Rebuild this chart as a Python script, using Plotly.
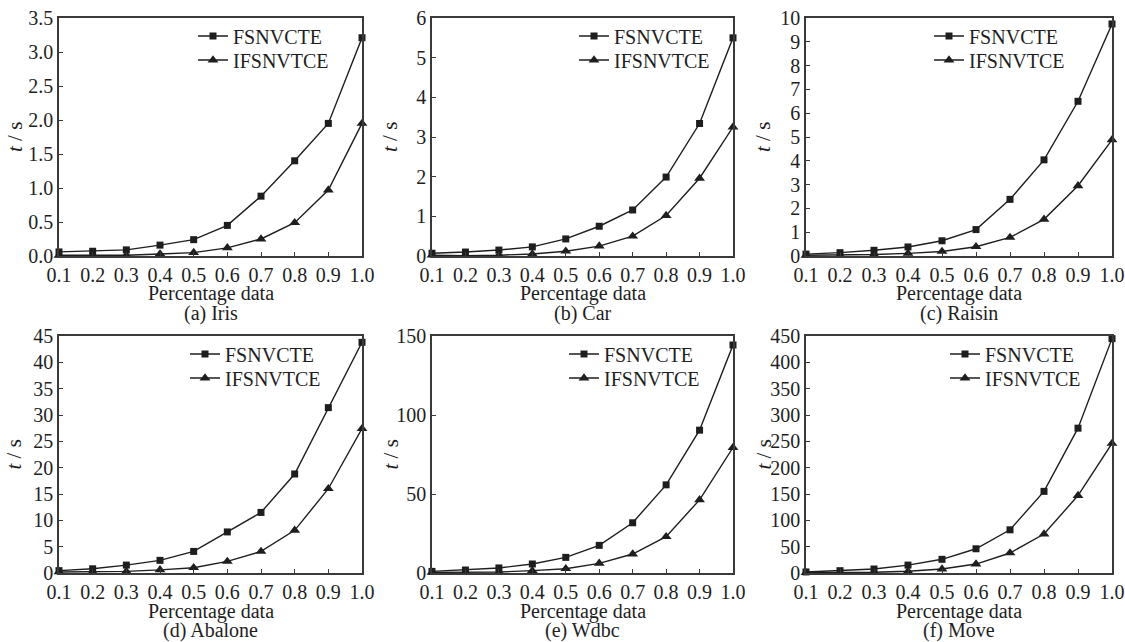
import plotly.graph_objects as go

W, H = 1125, 642

x_vals = [0.1, 0.2, 0.3, 0.4, 0.5, 0.6, 0.7, 0.8, 0.9, 1.0]
series_names = ["FSNVCTE", "IFSNVTCE"]

iris_fs = [0.06, 0.07, 0.09, 0.16, 0.24, 0.45, 0.88, 1.40, 1.95, 3.21]
iris_ifs = [0.01, 0.01, 0.01, 0.03, 0.05, 0.12, 0.25, 0.49, 0.97, 1.95]

car_fs = [0.07, 0.10, 0.15, 0.23, 0.43, 0.75, 1.16, 1.99, 3.34, 5.50]
car_ifs = [0.02, 0.01, 0.02, 0.05, 0.12, 0.25, 0.50, 1.02, 1.96, 3.25]

raisin_fs = [0.08, 0.14, 0.24, 0.38, 0.64, 1.11, 2.38, 4.04, 6.50, 9.75]
raisin_ifs = [0.03, 0.03, 0.06, 0.11, 0.19, 0.39, 0.78, 1.54, 2.95, 4.88]

abalone_fs = [0.45, 0.8, 1.5, 2.4, 4.1, 7.8, 11.5, 18.8, 31.4, 43.8]
abalone_ifs = [0.2, 0.2, 0.3, 0.6, 1.0, 2.2, 4.1, 8.1, 16.0, 27.4]

wdbc_fs = [1.0, 1.9, 3.2, 5.7, 9.9, 17.5, 31.8, 55.8, 90.4, 144.3]
wdbc_ifs = [0.4, 0.4, 0.6, 1.5, 2.7, 6.1, 12.0, 23.0, 46.3, 79.4]

move_fs = [2.0, 4.4, 7.6, 15.0, 26.0, 46.0, 82.0, 155.0, 275.0, 445.0]
move_ifs = [0.6, 0.6, 1.3, 3.2, 7.6, 17.0, 38.0, 74.0, 147.0, 246.0]

captions = ["(a) Iris", "(b) Car", "(c) Raisin", "(d) Abalone", "(e) Wdbc", "(f) Move"]
y_ranges = [[0, 3.5], [0, 6], [0, 10], [0, 45], [0, 150], [0, 450]]
y_dticks = [0.5, 1, 1, 5, 50, 50]
y_formats = [".1f", "d", "d", "d", "d", "d"]
panel_data = [
    (iris_fs, iris_ifs), (car_fs, car_ifs), (raisin_fs, raisin_ifs),
    (abalone_fs, abalone_ifs), (wdbc_fs, wdbc_ifs), (move_fs, move_ifs),
]

FONT = "Liberation Serif"
INK = "#1e1e1e"
FS = 20
TICK_FS = 19

# panel boxes in pixels: (left, right, top, bottom)
col_px = [(59, 362), (432, 733), (806, 1112)]
row_px = [(18, 256), (336, 573)]
legend_x_px = [193, 574, 929, 185, 564, 945]
legend_rows_px = [(36, 60), (354, 378)]
ytitle_px = [15, 390, 763, 13, 390, 763]

fig = go.Figure()
annotations = []
layout_axes = {}
legends = {}

k = 0
for i in range(6):
    r, c = divmod(i, 3)
    l, rr = col_px[c]
    t, b = row_px[r]
    xa = "xaxis" if i == 0 else f"xaxis{i+1}"
    ya = "yaxis" if i == 0 else f"yaxis{i+1}"
    xref = "x" if i == 0 else f"x{i+1}"
    yref = "y" if i == 0 else f"y{i+1}"
    fs, ifs = panel_data[i]
    for j, (name, vals, sym, msize) in enumerate(
            [(series_names[0], fs, "square", 7),
             (series_names[1], ifs, "triangle-up", 9.5)]):
        k += 1
        lg = "legend" if k == 1 else f"legend{k}"
        fig.add_trace(go.Scatter(
            x=x_vals, y=vals, name=name, mode="lines+markers",
            line=dict(color=INK, width=1.4),
            marker=dict(symbol=sym, size=msize, color=INK),
            cliponaxis=False, xaxis=xref, yaxis=yref, legend=lg,
        ))
        legends[lg] = dict(
            x=legend_x_px[i] / W, y=1 - legend_rows_px[r][j] / H,
            xanchor="left", yanchor="middle",
            xref="paper", yref="paper",
            bgcolor="rgba(0,0,0,0)", borderwidth=0,
            font=dict(family=FONT, size=FS, color=INK),
            itemwidth=30,
        )
    layout_axes[xa] = dict(
        domain=[l / W, rr / W], range=[0.1, 1.0], dtick=0.1, tick0=0.1,
        tickformat=".1f", anchor=yref, showline=True, mirror=True,
        linecolor="#3a3a3a", linewidth=1.5, ticks="inside", ticklen=4,
        tickcolor="#3a3a3a", showgrid=False, zeroline=False, automargin=False,
        tickfont=dict(family=FONT, size=TICK_FS + 1, color=INK),
    )
    layout_axes[ya] = dict(
        domain=[1 - b / H, 1 - t / H], range=y_ranges[i], dtick=y_dticks[i],
        tickformat=y_formats[i], anchor=xref, showline=True, mirror=True,
        linecolor="#3a3a3a", linewidth=1.5, ticks="inside", ticklen=4,
        tickcolor="#3a3a3a", showgrid=False, zeroline=False, automargin=False,
        tickfont=dict(family=FONT, size=FS, color=INK),
    )
    cx = (l + rr) / 2 / W
    xt_y = 293 if r == 0 else 611
    cap_y = 314 if r == 0 else 630
    annotations.append(dict(text="Percentage data", x=cx, y=1 - xt_y / H,
                            xref="paper", yref="paper", showarrow=False,
                            xanchor="center", yanchor="middle",
                            font=dict(family=FONT, size=FS, color=INK)))
    annotations.append(dict(text=captions[i], x=cx, y=1 - cap_y / H,
                            xref="paper", yref="paper", showarrow=False,
                            xanchor="center", yanchor="middle",
                            font=dict(family=FONT, size=FS, color=INK)))
    annotations.append(dict(text="<i>t</i> / s", x=ytitle_px[i] / W,
                            y=1 - (t + b) / 2 / H, xref="paper", yref="paper",
                            showarrow=False, textangle=-90,
                            xanchor="center", yanchor="middle",
                            font=dict(family=FONT, size=FS + 1, color=INK)))

fig.update_layout(
    width=W, height=H,
    margin=dict(l=0, r=0, t=0, b=0, autoexpand=False),
    paper_bgcolor="white", plot_bgcolor="white",
    showlegend=True, annotations=annotations,
    **layout_axes, **legends,
)

fig.write_html("out.html")
